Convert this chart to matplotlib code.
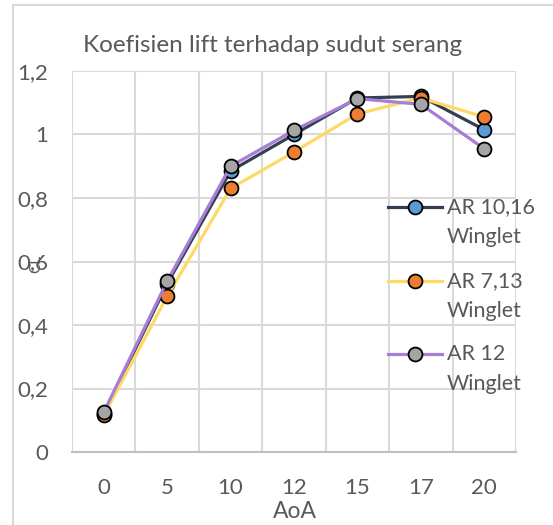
import matplotlib
matplotlib.use("Agg")
import matplotlib.pyplot as plt
from matplotlib.patches import Rectangle

categories = ["0", "5", "10", "12", "15", "17", "20"]
ar1016 = [0.12, 0.53, 0.885, 1.0, 1.115, 1.12, 1.015]
ar713 = [0.115, 0.49, 0.83, 0.945, 1.065, 1.115, 1.055]
ar12 = [0.125, 0.538, 0.90, 1.013, 1.113, 1.095, 0.955]
series_names = ["AR 10,16", "AR 7,13", "AR 12"]
series_suffix = "Winglet"
yticks = [0, 0.2, 0.4, 0.6, 0.8, 1.0, 1.2]
ytick_labels = ["0", "0,2", "0,4", "0,6", "0,8", "1", "1,2"]

plt.rcParams['font.family'] = ['Lato', 'DejaVu Sans']
txt = "#595959"
grid = "#D9D9D9"

W, H = 553, 525
fig = plt.figure(figsize=(W / 100, H / 100), dpi=100)
fig.patches.append(Rectangle((13 / W, -0.1), 1.2, 1.1 - 5 / H,
                             transform=fig.transFigure, fill=False,
                             edgecolor="#D9D9D9", linewidth=1.5))
L, R, B, T = 72, 516, 452, 71
ax = fig.add_axes([L / W, (H - B) / H, (R - L) / W, (B - T) / H])

x = list(range(len(categories)))
styles = [
    (ar1016, "#333F50", "#5B9BD5"),
    (ar713, "#FFD966", "#ED7D31"),
    (ar12, "#A67ED6", "#A5A5A5"),
]
mk = dict(marker="o", markersize=10, markeredgecolor="black", markeredgewidth=1.3)
for vals, lc, mc in styles:
    ax.plot(x, vals, color=lc, linewidth=2.3, markerfacecolor=mc, zorder=3, **mk)

ax.set_xlim(-0.5, 6.5)
ax.set_ylim(0, 1.2)
ax.set_xticks(x)
ax.set_xticklabels(categories)
ax.set_xticks([i - 0.5 for i in range(8)], minor=True)
ax.set_yticks(yticks)
ax.set_yticklabels(ytick_labels)
ax.grid(True, axis="y", which="major", color=grid, linewidth=1.5)
ax.grid(True, axis="x", which="minor", color=grid, linewidth=1.5)
ax.tick_params(which="both", length=0, labelsize=16, colors=txt)
ax.tick_params(axis="x", pad=19)
ax.tick_params(axis="y", pad=17)
for s in ["top", "right", "left"]:
    ax.spines[s].set_visible(False)
ax.spines["bottom"].set_color("#BFBFBF")
ax.spines["bottom"].set_linewidth(1.5)
ax.set_axisbelow(True)

fig.text(295 / W, 1 - 511 / H, "AoA", fontsize=16.5, color=txt,
         ha="center", va="center")
fig.text(36 / W, 1 - 264 / H, "CL", rotation=90, fontsize=11, color=txt,
         ha="center", va="center")
fig.text(273 / W, 1 - 45 / H, "Koefisien lift terhadap sudut serang",
         fontsize=17.5, color=txt, ha="center", va="center")

# legend (manual, first line aligned with handle, as in Excel)
ax_w, ax_h = R - L, B - T
entry_y = [207, 281, 354]
for (vals, lc, mc), name, py in zip(styles, series_names, entry_y):
    yy = (B - py) / ax_h
    x0, x1, xm = (388 - L) / ax_w, (442 - L) / ax_w, (415 - L) / ax_w
    ax.plot([x0, x1], [yy, yy], color=lc, linewidth=2.3, transform=ax.transAxes,
            clip_on=False, zorder=4)
    ax.plot([xm], [yy], color=lc, markerfacecolor=mc, transform=ax.transAxes,
            clip_on=False, zorder=5, **mk)
    tx = (447 - L) / ax_w
    ax.text(tx, yy, name, transform=ax.transAxes, fontsize=15.5, color=txt,
            ha="left", va="center")
    ax.text(tx, (B - py - 30) / ax_h, series_suffix, transform=ax.transAxes,
            fontsize=15.5, color=txt, ha="left", va="center")

fig.savefig("out.png", dpi=100)
